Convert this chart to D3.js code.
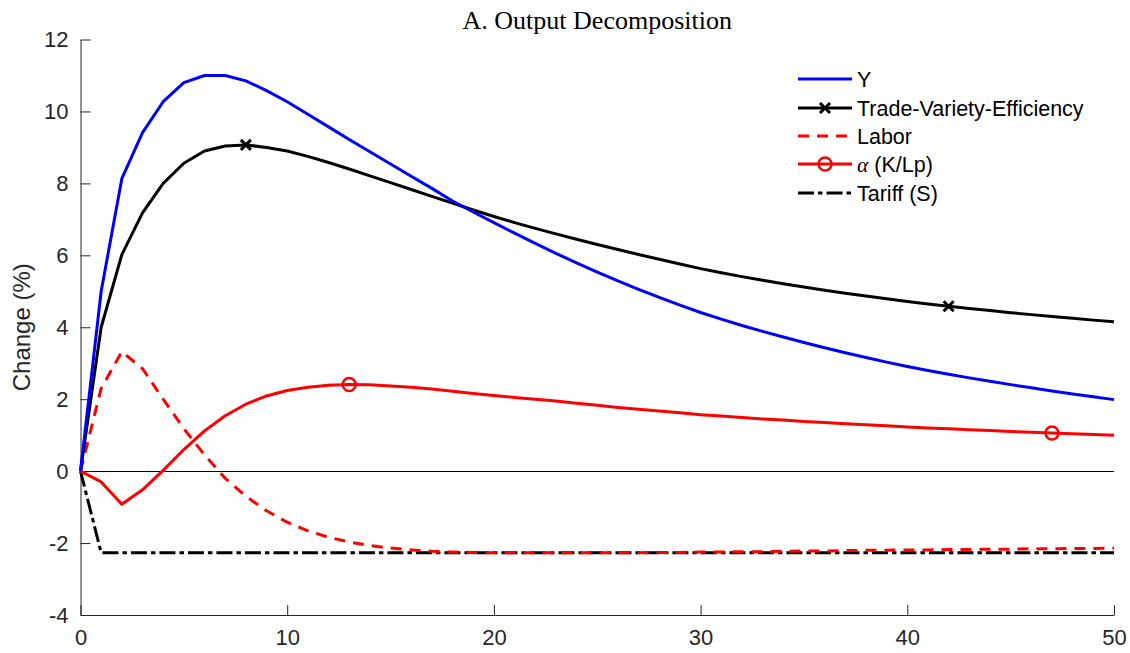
<!DOCTYPE html>
<html><head><meta charset="utf-8">
<script src="https://cdn.jsdelivr.net/npm/d3@7"></script>
<style>body{margin:0;background:#fff;}svg{display:block;}</style>
</head><body>
<svg id="c" width="1130" height="653"></svg>
<script>
const periods = d3.range(0, 51);
const seriesY = [0,5.0,8.13,9.41,10.27,10.8,11.0,11.0,10.85,10.58,10.27,9.92,9.57,9.22,8.88,8.54,8.2,7.86,7.51,7.205,6.91,6.615,6.33,6.055,5.79,5.535,5.29,5.055,4.83,4.615,4.41,4.225,4.05,3.885,3.727,3.576,3.431,3.292,3.159,3.031,2.908,2.798,2.693,2.593,2.497,2.405,2.316,2.23,2.147,2.066,1.988];
const seriesTVE = [0,4.0,6.02,7.18,8.0,8.56,8.90,9.04,9.07,9.0,8.90,8.75,8.58,8.40,8.21,8.02,7.83,7.64,7.45,7.26,7.08,6.91,6.75,6.595,6.445,6.30,6.16,6.023,5.889,5.758,5.63,5.515,5.407,5.305,5.209,5.118,5.031,4.948,4.868,4.791,4.717,4.649,4.584,4.522,4.463,4.406,4.351,4.298,4.247,4.198,4.15];
const seriesLabor = [0,2.3,3.32,2.85,2.0,1.18,0.45,-0.2,-0.7,-1.1,-1.42,-1.66,-1.84,-1.97,-2.07,-2.14,-2.19,-2.23,-2.25,-2.26,-2.27,-2.27,-2.27,-2.27,-2.27,-2.27,-2.27,-2.27,-2.26,-2.26,-2.25,-2.25,-2.24,-2.24,-2.23,-2.22,-2.22,-2.21,-2.20,-2.20,-2.19,-2.19,-2.18,-2.18,-2.17,-2.17,-2.16,-2.16,-2.15,-2.15,-2.14];
const seriesAlpha = [0,-0.3,-0.92,-0.52,0.02,0.6,1.12,1.54,1.86,2.09,2.24,2.33,2.39,2.41,2.40,2.37,2.33,2.28,2.22,2.16,2.10,2.05,2.0,1.95,1.89,1.83,1.77,1.72,1.67,1.62,1.57,1.53,1.49,1.45,1.42,1.38,1.35,1.32,1.29,1.26,1.23,1.20,1.18,1.15,1.13,1.10,1.08,1.06,1.04,1.02,1.0];
const seriesTariff = [0].concat(d3.range(50).map(() => -2.27));
const tveMarkerIdx = [8, 42];
const alphaMarkerIdx = [13, 47];
const xTicks = [0,10,20,30,40,50];
const yTicks = [-4,-2,0,2,4,6,8,10,12];
const legendLabels = ["Y","Trade-Variety-Efficiency","Labor","(K/Lp)","Tariff (S)"];
const titleText = "A. Output Decomposition";
const yLabelText = "Change (%)";

const svg = d3.select("#c");
const L = 80.5, R = 1114, T = 39.5, B = 615;
const x = d3.scaleLinear().domain([0,50]).range([L,R]);
const y = d3.scaleLinear().domain([-4,12]).range([B,T]);
const axCol = "#262626";

// zero line
const y0 = Math.round(y(0)) + 0.5;
svg.append("line").attr("x1",x(0)).attr("x2",x(50)).attr("y1",y0).attr("y2",y0)
  .attr("stroke","#000").attr("stroke-width",1);

// axes
const fmt = d => String(d);
const gx = svg.append("g").attr("transform",`translate(0,${B})`)
  .call(d3.axisBottom(x).tickValues(xTicks).tickFormat(fmt).tickSizeInner(-10).tickSizeOuter(0).tickPadding(14));
const gy = svg.append("g").attr("transform",`translate(${L},0)`)
  .call(d3.axisLeft(y).tickValues(yTicks).tickFormat(fmt).tickSizeInner(-10).tickSizeOuter(0).tickPadding(12));
[gx,gy].forEach(g=>{
  g.select(".domain").attr("stroke",axCol).attr("stroke-width",1);
  g.selectAll(".tick line").attr("stroke",axCol).attr("stroke-width",1);
  g.selectAll(".tick text").attr("fill",axCol).style("font-family","'Liberation Sans', Arial, sans-serif").style("font-size","22px");
});

const line = d3.line().x((d,i)=>x(periods[i])).y(d=>y(d));
function draw(data, color, dash){
  svg.append("path").attr("d", line(data)).attr("fill","none").attr("stroke",color)
    .attr("stroke-width",3).attr("stroke-linejoin","round")
    .attr("stroke-dasharray", dash || null);
}
draw(seriesTariff, "#000", "16,4,4.5,4");
draw(seriesLabor, "#ff0000", "11,8");
draw(seriesAlpha, "#ff0000");
draw(seriesTVE, "#000");
draw(seriesY, "#0000ff");

function cross(g, cx, cy){
  const s = 5;
  g.append("path").attr("d",`M${cx-s},${cy-s}L${cx+s},${cy+s}M${cx-s},${cy+s}L${cx+s},${cy-s}`)
    .attr("stroke","#000").attr("stroke-width",3);
}
function circ(g, cx, cy){
  g.append("circle").attr("cx",cx).attr("cy",cy).attr("r",6.5).attr("fill","none")
    .attr("stroke","#ff0000").attr("stroke-width",2.5);
}
tveMarkerIdx.forEach(i=>cross(svg, x(periods[i]), y(seriesTVE[i])));
alphaMarkerIdx.forEach(i=>circ(svg, x(periods[i]), y(seriesAlpha[i])));

// title
svg.append("text").attr("x",(L+R)/2).attr("y",29).attr("text-anchor","middle")
  .style("font-family","'Liberation Serif','Times New Roman',serif").style("font-size","26px")
  .attr("fill","#000").text(titleText);
// y label
svg.append("text").attr("transform",`translate(30,${(T+B)/2}) rotate(-90)`).attr("text-anchor","middle")
  .style("font-family","'Liberation Sans', Arial, sans-serif").style("font-size","24px")
  .attr("fill",axCol).text(yLabelText);

// legend
const lg = svg.append("g");
const rows = [79,108,136,164,193];
const styles = [
  {c:"#0000ff"},{c:"#000",m:"x"},{c:"#ff0000",d:"11,8"},{c:"#ff0000",m:"o"},{c:"#000",d:"16,4,4.5,4"}
];
rows.forEach((ry,i)=>{
  const st = styles[i];
  lg.append("line").attr("x1",798).attr("x2",852).attr("y1",ry).attr("y2",ry)
    .attr("stroke",st.c).attr("stroke-width",3).attr("stroke-dasharray",st.d||null);
  if(st.m==="x") cross(lg, 825, ry);
  if(st.m==="o") circ(lg, 825, ry);
  const t = lg.append("text").attr("x",857).attr("y",ry+7.5)
    .style("font-family","'Liberation Sans', Arial, sans-serif").style("font-size","21.5px").attr("fill","#000");
  if(i===3){
    t.append("tspan").style("font-family","'Liberation Serif','Times New Roman',serif").style("font-style","italic").text("α");
    t.append("tspan").text(" " + legendLabels[i]);
  } else t.text(legendLabels[i]);
});
</script>
</body></html>
